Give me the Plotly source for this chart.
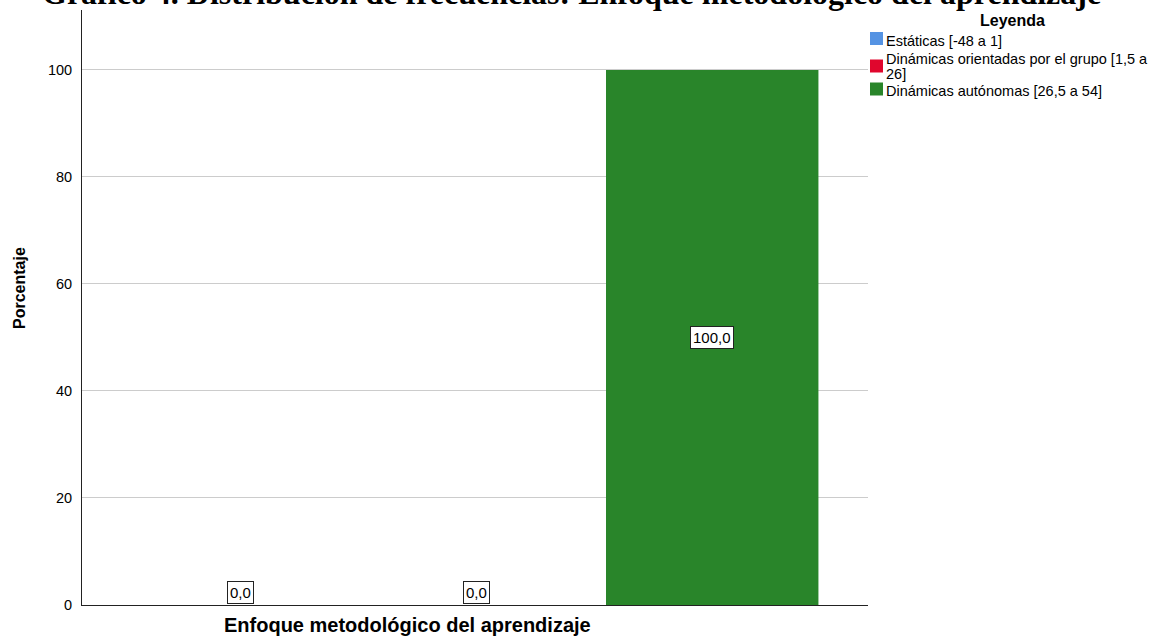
import plotly.graph_objects as go

categories = ["Estáticas [-48 a 1]",
              "Dinámicas orientadas por el grupo [1,5 a 26]",
              "Dinámicas autónomas [26,5 a 54]"]
legend_lines = [["Estáticas [-48 a 1]"],
                ["Dinámicas orientadas por el grupo [1,5 a", "26]"],
                ["Dinámicas autónomas [26,5 a 54]"]]
values = [0.0, 0.0, 100.0]
colors = ["#5593e3", "#e0062d", "#29852a"]
value_labels = ["0,0", "0,0", "100,0"]
y_ticks = [0, 20, 40, 60, 80, 100]

title_text = "Gráfico 4. Distribución de frecuencias: Enfoque metodológico del aprendizaje"
x_title = "Enfoque metodológico del aprendizaje"
y_title = "Porcentaje"
legend_title = "Leyenda"

W, H = 1153, 639
L, R, T, B = 82, 285, 10, 34
pw = W - L - R
ph = H - T - B

def px2x(px):
    return (px - L) / pw

def py2y(py):
    return (H - B - py) / ph

fig = go.Figure()
for i, (cat, v, c) in enumerate(zip(categories, values, colors)):
    fig.add_trace(go.Bar(x=[i], y=[v], marker=dict(color=c, line=dict(width=0)),
                         width=0.9, name=cat, showlegend=False, hoverinfo="skip"))
    if v > 5:
        fig.add_annotation(x=i, y=v / 2, xref="x", yref="y", text=value_labels[i],
                           showarrow=False, yanchor="middle",
                           font=dict(family="Arial", size=15, color="black"),
                           bgcolor="white", bordercolor="#222222", borderwidth=1, borderpad=2)
    else:
        fig.add_annotation(x=i, y=v, xref="x", yref="y", text=value_labels[i],
                           showarrow=False, yanchor="bottom", yshift=1,
                           font=dict(family="Arial", size=15, color="black"),
                           bgcolor="white", bordercolor="#222222", borderwidth=1, borderpad=2)

# Title (partially cut off at top, as in the reference)
fig.add_annotation(x=px2x(571), y=py2y(-7), xref="paper", yref="paper", text="<b>" + title_text + "</b>",
                   showarrow=False, xanchor="center", yanchor="middle",
                   font=dict(family="Liberation Serif", size=32, color="black"))

# Axis titles
fig.add_annotation(x=px2x(407), y=py2y(625), xref="paper", yref="paper", text="<b>" + x_title + "</b>",
                   showarrow=False, xanchor="center", yanchor="middle",
                   font=dict(family="Arial", size=20, color="black"))
fig.add_annotation(x=px2x(19), y=py2y(288), xref="paper", yref="paper", text="<b>" + y_title + "</b>",
                   showarrow=False, xanchor="center", yanchor="middle", textangle=-90,
                   font=dict(family="Arial", size=16, color="black"))

# Manual legend
fig.add_annotation(x=px2x(1012), y=py2y(20), xref="paper", yref="paper", text="<b>" + legend_title + "</b>",
                   showarrow=False, xanchor="center", yanchor="middle",
                   font=dict(family="Arial", size=16, color="black"))
swatch_y = [38.5, 66, 89]
line_y = [[41], [59, 74], [91]]
for lines, c, sy, ly in zip(legend_lines, colors, swatch_y, line_y):
    fig.add_shape(type="rect", xref="paper", yref="paper",
                  x0=px2x(870), x1=px2x(883), y0=py2y(sy - 6.5), y1=py2y(sy + 6.5),
                  fillcolor=c, line=dict(width=0))
    for txt, yy in zip(lines, ly):
        fig.add_annotation(x=px2x(884), y=py2y(yy), xref="paper", yref="paper", text=txt,
                           showarrow=False, xanchor="left", yanchor="middle", align="left",
                           font=dict(family="Arial", size=14.5, color="black"))

fig.update_layout(
    width=W, height=H,
    margin=dict(l=L, r=R, t=T, b=B),
    paper_bgcolor="white", plot_bgcolor="white",
    bargap=0.1,
)
fig.update_xaxes(range=[-0.67, 2.66], showgrid=False, showticklabels=False, ticks="",
                 showline=True, linecolor="#222222", linewidth=1, zeroline=False)
fig.update_yaxes(range=[0, 111.2], tickvals=y_ticks, ticktext=[str(t) for t in y_ticks],
                 showgrid=True, gridcolor="#cccccc", gridwidth=1, zeroline=False,
                 showline=True, linecolor="#222222", linewidth=1, ticks="",
                 tickfont=dict(family="Arial", size=14.5, color="black"), ticklabelstandoff=6)

fig.write_html("out.html", config={"displayModeBar": False},
               post_script="document.body.style.margin='0';document.body.style.overflow='hidden';")
